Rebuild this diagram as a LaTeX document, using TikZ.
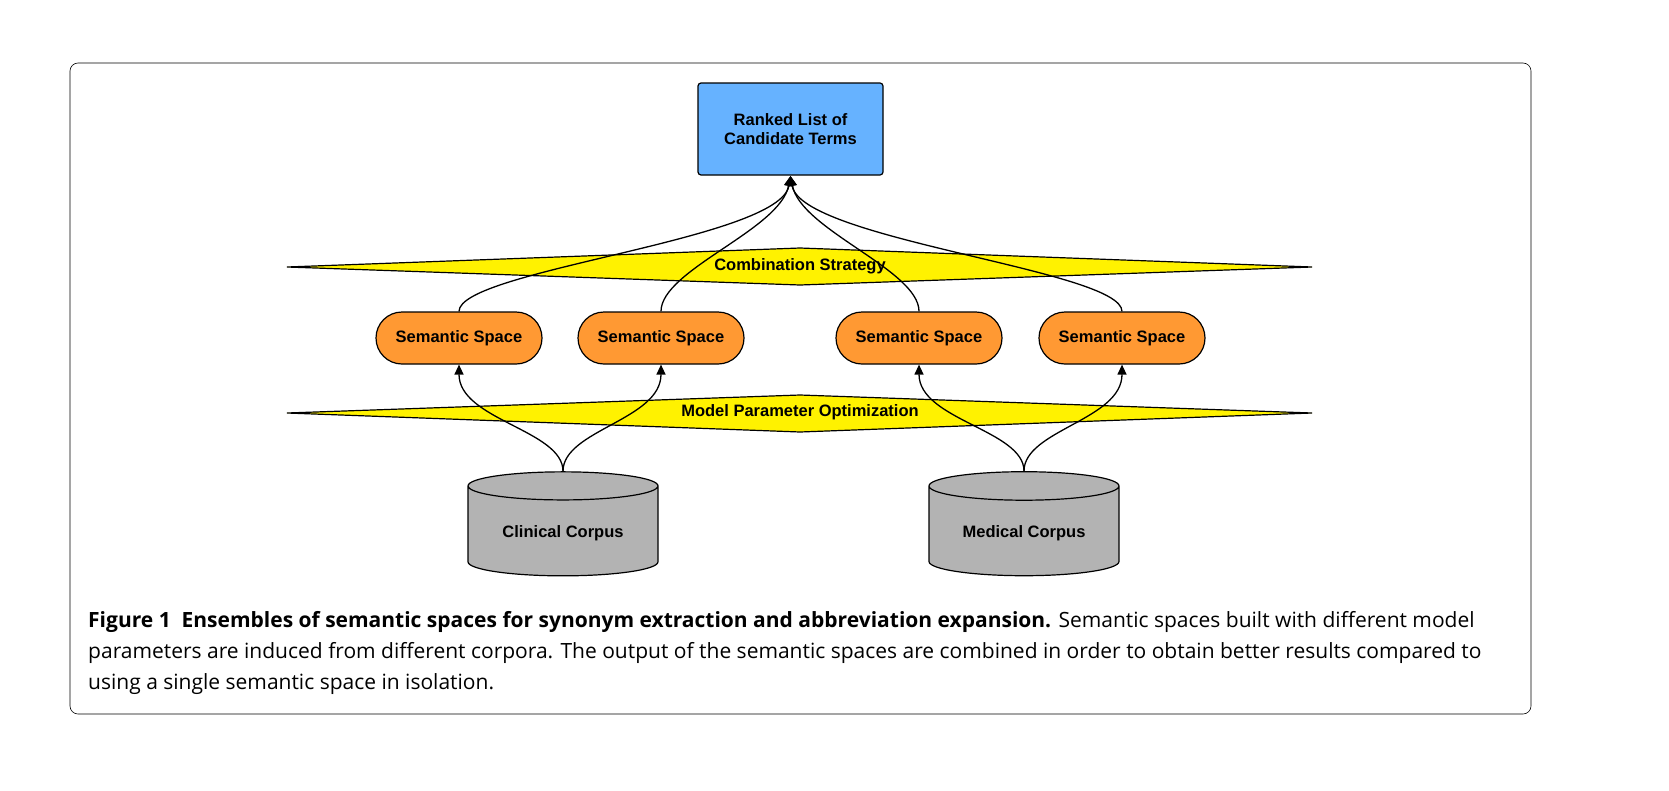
\documentclass[tikz,border=0pt]{standalone}
\usepackage{fontspec}
\setmainfont{Liberation Sans}
\newfontfamily\capfont{Open Sans}
\usetikzlibrary{shapes.geometric,arrows.meta}
\definecolor{boxblue}{HTML}{66B2FF}
\definecolor{spor}{HTML}{FF9933}
\definecolor{corp}{HTML}{B3B3B3}
\begin{document}
\begin{tikzpicture}[x=1pt,y=-1pt,
  lab/.style={font=\fontsize{16.5}{19}\selectfont\bfseries,align=center},
  space/.style={draw,line width=1.2pt,fill=spor,rounded corners=26pt,minimum width=166pt,minimum height=52pt,lab},
  diam/.style={draw,line width=1.2pt,fill=yellow},
  cyl/.style={draw,line width=1.2pt,fill=corp,cylinder,shape border rotate=90,aspect=0.22,minimum width=190pt,minimum height=104pt,lab},
  conn/.style={line width=1.3pt,-{Triangle[length=10pt,width=9pt]}}]
\useasboundingbox (0,0) rectangle (1669,790);
\draw[line width=0.6pt,rounded corners=8pt] (70,63) rectangle (1531,714);
\node[draw,line width=1.2pt,fill=boxblue,rounded corners=3pt,minimum width=185pt,minimum height=92pt,lab] (top) at (790.5,129) {Ranked List of\\Candidate Terms};
\draw[diam] (287,267) -- (800,248) -- (1312,267) -- (800,285) -- cycle;
\node[lab] (comb) at (800,266) {Combination Strategy};
\draw[diam] (287,413) -- (800,395) -- (1312,413) -- (800,432) -- cycle;
\node[lab] (mpo) at (800,412) {Model Parameter Optimization};
\node[space] (s1) at (459,338) {Semantic Space};
\node[space] (s2) at (661,338) {Semantic Space};
\node[space] (s3) at (919,338) {Semantic Space};
\node[space] (s4) at (1122,338) {Semantic Space};
\node[cyl] (c1) at (563,533) {Clinical Corpus};
\node[cyl] (c2) at (1024,533) {Medical Corpus};
\coordinate (tp) at (790.5,176);
\draw[conn] (s1.north) .. controls (459,270) and (780,240) .. (tp);
\draw[conn] (s2.north) .. controls (661,270) and (780,230) .. (tp);
\draw[conn] (s3.north) .. controls (919,270) and (801,230) .. (tp);
\draw[conn] (s4.north) .. controls (1122,270) and (801,240) .. (tp);
\draw[conn] (c1.north) .. controls (563,430) and (459,420) .. (s1.south);
\draw[conn] (c1.north) .. controls (563,430) and (661,420) .. (s2.south);
\draw[conn] (c2.north) .. controls (1024,430) and (919,420) .. (s3.south);
\draw[conn] (c2.north) .. controls (1024,430) and (1122,420) .. (s4.south);
\node[anchor=north west,align=left,inner sep=0pt,font=\capfont\fontsize{21}{31}\selectfont] (cap) at (88,611)
{\textbf{Figure 1\ \ Ensembles of semantic spaces for synonym extraction and abbreviation expansion.} Semantic spaces built with different model\\
parameters are induced from different corpora. The output of the semantic spaces are combined in order to obtain better results compared to\\
using a single semantic space in isolation.};
\end{tikzpicture}
\end{document}
